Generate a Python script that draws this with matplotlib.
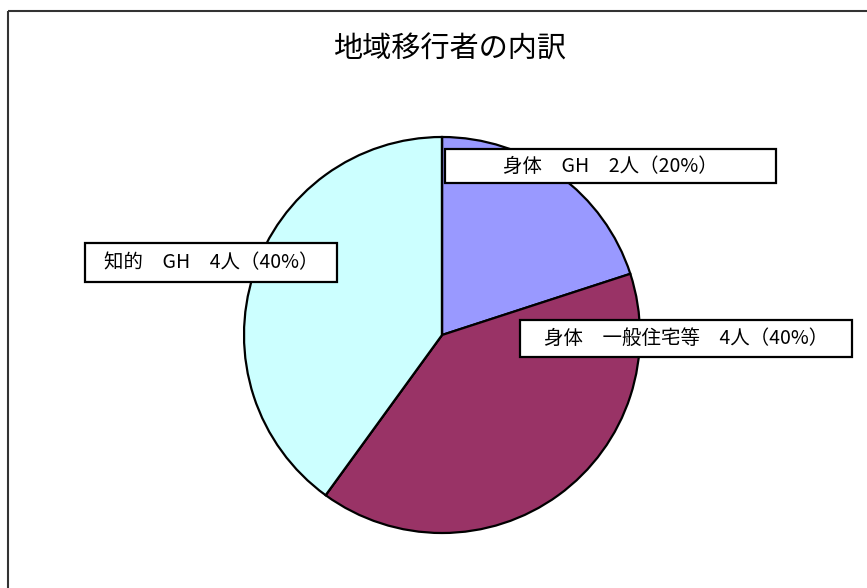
import matplotlib
matplotlib.use("Agg")
import matplotlib.pyplot as plt
from matplotlib.patches import Rectangle

plt.rcParams['font.family'] = ['Noto Sans CJK JP', 'DejaVu Sans']

title = "地域移行者の内訳"
categories = ["身体　GH", "身体　一般住宅等", "身体　その他", "知的　GH", "知的　一般住宅等"]
values = [2, 4, 0, 4, 0]
colors = ["#9999FF", "#993366", "#FFFFCC", "#CCFFFF", "#660066"]
label_texts = ["身体　GH　2人（20%）", "身体　一般住宅等　4人（40%）", "", "知的　GH　4人（40%）", ""]

W, H = 867, 588
fig = plt.figure(figsize=(W / 100, H / 100), dpi=100)
ax = fig.add_axes([0, 0, 1, 1])
ax.set_xlim(0, W)
ax.set_ylim(H, 0)
ax.axis("off")

# outer chart frame (right/bottom are cut off in the reference)
ax.add_patch(Rectangle((7.5, 10.5), 900, 700, fill=False, edgecolor="#333333", lw=1.5))

ax.text(450, 50, title, ha="center", va="center", fontsize=21)

pax = fig.add_axes([0, 0, 1, 1])
cx, cy, r = 442, H - 335, 198
wedges, _ = pax.pie(values, colors=colors, startangle=90, counterclock=False,
                    center=(cx, cy), radius=r, frame=True,
                    wedgeprops=dict(edgecolor="black", linewidth=1.6))
pax.set_xlim(0, W)
pax.set_ylim(0, H)
pax.set_aspect("auto")
pax.axis("off")

# label boxes (x0, y0, x1, y1 in pixels from top-left)
boxes = {0: (445, 149, 776, 183), 1: (520, 320, 852, 357), 3: (85, 243, 337, 282)}
for i, (x0, y0, x1, y1) in boxes.items():
    pax.add_patch(Rectangle((x0, H - y1), x1 - x0, y1 - y0, facecolor="white",
                            edgecolor="black", lw=1.6, zorder=5))
    pax.text((x0 + x1) / 2, H - (y0 + y1) / 2, label_texts[i], ha="center",
             va="center", fontsize=14, zorder=6)

fig.savefig("out.png", dpi=100)
